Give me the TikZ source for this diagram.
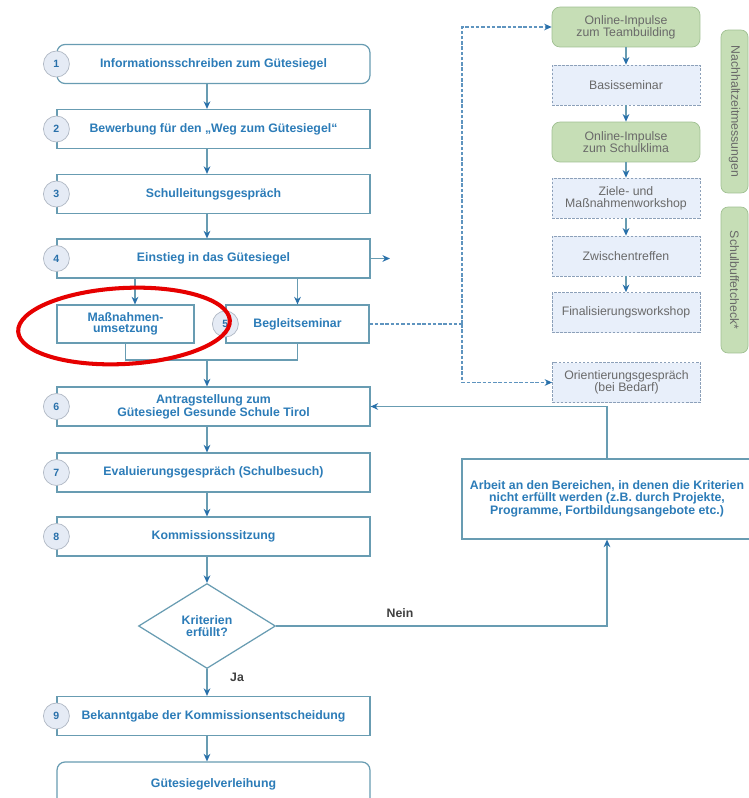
\documentclass[tikz,border=0pt]{standalone}
\usepackage{fontspec}
\setmainfont{Liberation Sans}
\usetikzlibrary{arrows.meta, shapes.geometric, calc}

\definecolor{boxline}{RGB}{104,156,178}
\definecolor{txtblue}{RGB}{44,124,184}
\definecolor{tipblue}{RGB}{40,112,170}
\definecolor{circfill}{RGB}{229,235,245}
\definecolor{circline}{RGB}{176,184,196}
\definecolor{impgreen}{RGB}{198,222,182}
\definecolor{impline}{RGB}{160,192,146}
\definecolor{seminarfill}{RGB}{232,239,250}
\definecolor{seminarline}{RGB}{140,160,185}
\definecolor{greytxt}{RGB}{105,105,105}
\definecolor{markred}{RGB}{230,0,0}

\tikzset{
  stepbox/.style = {draw = boxline, line width = 0.7pt, fill = white, minimum width = 6.26cm,
    minimum height = 0.78cm, inner sep = 0pt, align = center, text = txtblue,
    font = \fontsize{7}{6.5}\selectfont\bfseries},
  numcirc/.style = {circle, draw = circline, fill = circfill, minimum size = 0.52cm, inner sep = 0pt,
    text = tipblue, font = \fontsize{6}{6}\selectfont\bfseries},
  decision/.style = {diamond, draw = boxline, line width = 0.7pt, fill = white, minimum width = 2.74cm,
    minimum height = 1.7cm, inner sep = 0pt, align = center, text = txtblue,
    font = \fontsize{7}{6.5}\selectfont\bfseries},
  impulse/.style = {draw = impline, fill = impgreen, rounded corners = 0.16cm, minimum width = 2.96cm,
    minimum height = 0.8cm, inner sep = 0pt, align = center, text = greytxt,
    font = \fontsize{7}{6.8}\selectfont},
  seminar/.style = {impulse, draw = seminarline, fill = seminarfill, rounded corners = 0pt,
    dash pattern = on 1.5pt off 0.8pt},
  sidebar/.style = {impulse, rotate = -90, minimum height = 0.54cm, rounded corners = 0.14cm},
  flow/.style = {draw = boxline, line width = 0.7pt, -{Stealth[length = 4.3pt, width = 3.8pt, color = tipblue]}},
  joinline/.style = {draw = boxline, line width = 0.7pt},
  dashline/.style = {draw = tipblue!75, line width = 0.6pt, dash pattern = on 2pt off 1pt},
  dashflow/.style = {dashline, -{Stealth[length = 4.3pt, width = 3.8pt, color = tipblue]}},
  answer/.style = {text = black!75, font = \fontsize{7}{7}\selectfont\bfseries},
  redmark/.style = {draw = markred, line width = 2.3pt}
}

\begin{document}
\begin{tikzpicture}[x = 0.02cm, y = -0.02cm]
  \clip (0, 0) rectangle (749, 798);
  \fill[white] (0, 0) rectangle (749, 798);
  \coordinate (spine) at (207, 0);

  % main steps
  \node[stepbox, rounded corners = 0.16cm] (s1) at (213.5, 64) {Informationsschreiben zum Gütesiegel};
  \node[stepbox] (s2) at (213.5, 129) {Bewerbung für den „Weg zum Gütesiegel“};
  \node[stepbox] (s3) at (213.5, 194) {Schulleitungsgespräch};
  \node[stepbox] (s4) at (213.5, 258.5) {Einstieg in das Gütesiegel};
  \node[stepbox, minimum width = 2.74cm, minimum height = 0.76cm] (mass) at (125.5, 324) {Maßnahmen-\\umsetzung};
  \node[stepbox, minimum width = 2.86cm, minimum height = 0.76cm] (begl) at (297.5, 324) {Begleitseminar};
  \node[stepbox] (s6) at (213.5, 406.5) {Antragstellung zum\\Gütesiegel Gesunde Schule Tirol};
  \node[stepbox] (s7) at (213.5, 472.5) {Evaluierungsgespräch (Schulbesuch)};
  \node[stepbox] (s8) at (213.5, 536.5) {Kommissionssitzung};
  \node[decision] (dec) at (207, 626) {Kriterien\\erfüllt?};
  \node[stepbox] (s9) at (213.5, 716) {Bekanntgabe der Kommissionsentscheidung};
  \node[stepbox, rounded corners = 0.16cm, minimum height = 0.88cm] (fin) at (213.5, 784) {Gütesiegelverleihung};
  \node[stepbox, minimum width = 5.8cm, minimum height = 1.6cm] (arb) at (607, 499)
    {Arbeit an den Bereichen, in denen die Kriterien\\nicht erfüllt werden (z.B. durch Projekte,\\Programme, Fortbildungsangebote etc.)};

  % step numbers
  \node[numcirc] (c1) at (s1.west) {1};
  \node[numcirc] (c2) at (s2.west) {2};
  \node[numcirc] (c3) at (s3.west) {3};
  \node[numcirc] (c4) at (s4.west) {4};
  \node[numcirc] (c5) at (begl.west) {5};
  \node[numcirc] (c6) at (s6.west) {6};
  \node[numcirc] (c7) at (s7.west) {7};
  \node[numcirc] (c8) at (s8.west) {8};
  \node[numcirc] (c9) at (s9.west) {9};

  % seminar column
  \node[impulse] (imp1) at (626, 27) {Online-Impulse\\zum Teambuilding};
  \node[seminar] (basis) at (626, 85) {Basisseminar};
  \node[impulse] (imp2) at (626, 142) {Online-Impulse\\zum Schulklima};
  \node[seminar] (ziele) at (626, 198) {Ziele- und\\Maßnahmenworkshop};
  \node[seminar] (zwisch) at (626, 256) {Zwischentreffen};
  \node[seminar] (finws) at (626, 312.5) {Finalisierungsworkshop};
  \node[seminar] (orient) at (626.5, 382.5) {Orientierungsgespräch\\(bei Bedarf)};
  \node[sidebar, minimum width = 3.26cm] (nachh) at (734.5, 111.5) {Nachhaltzeitmessungen};
  \node[sidebar, minimum width = 2.92cm] (buffet) at (734.5, 280) {Schulbuffetcheck*};

  % connectors
  \foreach \a/\b in {s1/s2, s2/s3, s3/s4, s6/s7, s7/s8, s8/dec, s9/fin}
    \draw[flow] (\a.south -| spine) -- (\b.north -| spine);
  \foreach \a/\b in {imp1/basis, basis/imp2, imp2/ziele, ziele/zwisch, zwisch/finws}
    \draw[flow] (\a) -- (\b);

  \coordinate (mtop) at ([xshift = 0.19cm]mass.north);
  \draw[flow] (mtop |- s4.south) -- (mtop);
  \draw[flow] (begl.north |- s4.south) -- (begl.north);
  \coordinate (s4out) at (390, 258.5);
  \draw[flow] (s4.east) -- (s4out);

  \coordinate (merge) at (207, 360);
  \draw[joinline] (mass.south) |- (merge) -| (begl.south);
  \draw[flow] (merge) -- (s6.north -| merge);

  \draw[flow] (dec.south) -- (s9.north -| dec.south);
  \node[answer] (ja) at (237, 677) {Ja};
  \draw[flow] (dec.east) -| (arb.south);
  \node[answer] (nein) at (400, 613) {Nein};
  \draw[flow] (arb.north) |- (s6.east);

  \coordinate (branch) at (462, 324);
  \draw[dashline] (begl.east) -- (branch);
  \draw[dashflow] (branch) |- (imp1.west);
  \draw[dashflow] (branch) |- (orient.west);

  % highlight
  \draw[redmark, rotate around = {3:(124, 326)}] (124, 326) ellipse [x radius = 2.12cm, y radius = 0.76cm];
\end{tikzpicture}
\end{document}
